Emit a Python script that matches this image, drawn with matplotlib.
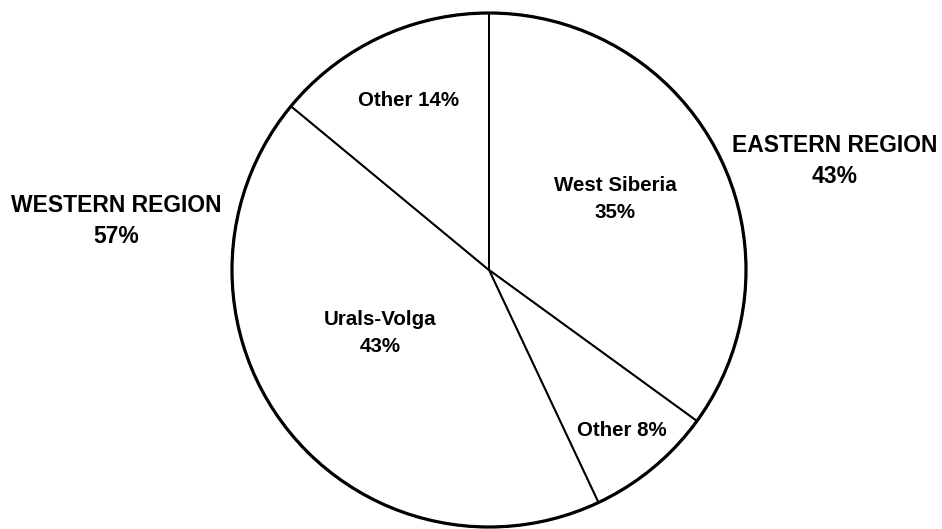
import matplotlib.pyplot as plt
from matplotlib.patches import Circle

# shares of the pie, clockwise from the top
shares = [35, 8, 43, 14]
labels = ['West Siberia\n35%', 'Other 8%', 'Urals-Volga\n43%', 'Other 14%']
regions = ['WESTERN REGION\n57%', 'EASTERN REGION\n43%']

W, H = 942, 529
cx, cy, r = 489, H - 270, 257

plt.rcParams['font.family'] = ['Liberation Sans', 'DejaVu Sans']

fig = plt.figure(figsize=(W / 100, H / 100), dpi=100)
ax = fig.add_axes([0, 0, 1, 1])

ax.pie(shares, startangle=90, counterclock=False, center=(cx, cy), radius=r,
       colors=['white'] * len(shares),
       wedgeprops=dict(edgecolor='black', linewidth=1.4))
ax.add_patch(Circle((cx, cy), r, fill=False, edgecolor='black', linewidth=2.3))

# labels inside the wedges
inner_pos = [(615, 199), (622, 431), (380, 333), (408, 100)]
for txt, (x, y) in zip(labels, inner_pos):
    ax.text(x, H - y, txt, ha='center', va='center', fontsize=14.8,
            fontweight='bold', linespacing=1.55)

# region labels outside
region_pos = [(116, 221), (835, 161)]
for txt, (x, y) in zip(regions, region_pos):
    ax.text(x, H - y, txt, ha='center', va='center', fontsize=16.5,
            fontweight='bold', linespacing=1.45)

ax.set_xlim(0, W)
ax.set_ylim(0, H)
ax.set_aspect('equal')
ax.axis('off')

fig.savefig('out.png', dpi=100, facecolor='white')
